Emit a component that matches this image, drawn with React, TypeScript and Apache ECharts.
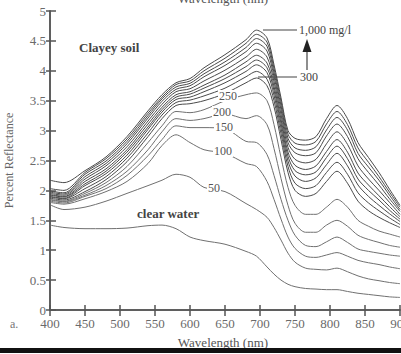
import React, { useEffect, useRef } from "react";
import * as echarts from "echarts";

const wavelengths = [400, 420, 450, 480, 510, 540, 560, 580, 600, 620, 650, 680, 695, 710, 720, 730, 740, 750, 765, 780, 795, 810, 825, 840, 855, 870, 885, 900];

const clearWater = [1.42,1.38,1.36,1.36,1.37,1.41,1.42,1.36,1.22,1.16,1.10,0.98,0.90,0.72,0.60,0.50,0.43,0.39,0.36,0.35,0.34,0.34,0.31,0.28,0.26,0.24,0.22,0.21];
const c50 = [1.76,1.68,1.72,1.82,1.95,2.08,2.17,2.27,2.22,2.05,1.98,1.78,1.68,1.55,1.38,1.17,0.95,0.80,0.70,0.68,0.67,0.70,0.64,0.57,0.52,0.49,0.46,0.44];
const c100 = [1.80,1.77,1.86,1.98,2.15,2.45,2.75,2.93,2.80,2.68,2.62,2.45,2.40,2.15,1.85,1.52,1.22,1.03,0.90,0.88,0.92,0.96,0.90,0.83,0.79,0.76,0.72,0.69];
const c150 = [1.82,1.79,1.90,2.03,2.25,2.58,2.85,3.08,3.05,3.05,3.03,2.82,2.80,2.60,2.25,1.85,1.50,1.25,1.08,1.06,1.14,1.22,1.13,1.02,0.98,0.95,0.92,0.90];
const c200 = [1.84,1.81,1.92,2.08,2.32,2.68,2.98,3.20,3.17,3.20,3.28,3.20,3.25,3.10,2.70,2.20,1.75,1.45,1.30,1.30,1.42,1.50,1.40,1.25,1.18,1.13,1.08,1.05];
const c250 = [1.85,1.82,1.95,2.13,2.40,2.80,3.08,3.32,3.30,3.35,3.50,3.60,3.63,3.50,3.10,2.55,2.05,1.75,1.60,1.60,1.72,1.85,1.72,1.50,1.40,1.32,1.27,1.22];
const c300 = [1.87,1.84,1.98,2.18,2.48,2.90,3.20,3.42,3.45,3.50,3.62,3.80,3.88,3.75,3.40,2.85,2.30,2.00,1.90,1.95,2.15,2.32,2.12,1.82,1.66,1.55,1.46,1.38];
const c350 = [1.89,1.86,2.03,2.23,2.54,2.96,3.26,3.47,3.51,3.58,3.71,3.90,3.99,3.86,3.50,2.95,2.40,2.12,2.03,2.08,2.30,2.47,2.27,1.96,1.79,1.66,1.54,1.43];
const c400 = [1.90,1.87,2.08,2.28,2.59,3.02,3.31,3.52,3.56,3.65,3.80,3.99,4.10,3.97,3.59,3.04,2.49,2.24,2.15,2.21,2.43,2.62,2.41,2.09,1.90,1.75,1.61,1.48];
const c450 = [1.92,1.89,2.11,2.32,2.64,3.06,3.35,3.56,3.61,3.71,3.87,4.07,4.18,4.05,3.67,3.12,2.57,2.33,2.26,2.31,2.55,2.74,2.53,2.19,2.00,1.84,1.67,1.52];
const c500 = [1.93,1.90,2.15,2.36,2.68,3.11,3.39,3.60,3.65,3.76,3.93,4.15,4.26,4.13,3.74,3.19,2.64,2.42,2.35,2.41,2.65,2.85,2.64,2.29,2.09,1.91,1.73,1.56];
const c600 = [1.95,1.92,2.19,2.41,2.73,3.16,3.44,3.65,3.70,3.83,4.01,4.23,4.36,4.23,3.82,3.27,2.72,2.52,2.46,2.52,2.78,2.98,2.77,2.41,2.19,2.00,1.80,1.60];
const c700 = [1.97,1.94,2.23,2.45,2.78,3.21,3.49,3.69,3.75,3.90,4.09,4.32,4.46,4.33,3.90,3.35,2.80,2.63,2.58,2.63,2.91,3.11,2.90,2.53,2.30,2.09,1.86,1.65];
const c800 = [1.99,1.96,2.27,2.49,2.82,3.25,3.53,3.73,3.79,3.95,4.15,4.39,4.54,4.41,3.97,3.42,2.87,2.71,2.67,2.73,3.01,3.22,3.01,2.62,2.39,2.17,1.92,1.68];
const c900 = [2.03,2.00,2.30,2.53,2.86,3.29,3.56,3.77,3.83,4.00,4.21,4.46,4.61,4.48,4.04,3.49,2.94,2.79,2.76,2.82,3.11,3.32,3.10,2.71,2.47,2.23,1.97,1.72];
const c1000 = [2.17,2.13,2.33,2.56,2.90,3.33,3.60,3.80,3.87,4.05,4.27,4.52,4.68,4.55,4.10,3.55,3.00,2.87,2.84,2.90,3.20,3.42,3.20,2.80,2.55,2.30,2.02,1.75];

const seriesNames = ["clear water", "50", "100", "150", "200", "250", "300", "350", "400", "450", "500", "600", "700", "800", "900", "1,000 mg/l"];
const seriesValues = [clearWater, c50, c100, c150, c200, c250, c300, c350, c400, c450, c500, c600, c700, c800, c900, c1000];

const FONT = '"Liberation Serif", "Times New Roman", serif';

export default function App() {
  const ref = useRef<HTMLDivElement>(null);
  useEffect(() => {
    if (!ref.current) return;
    const chart = echarts.init(ref.current, null, { renderer: "svg" });
    const series = seriesValues.map((vals, i) => ({
      name: seriesNames[i],
      type: "line",
      xAxisIndex: 0,
      yAxisIndex: 0,
      data: wavelengths.map((w, j) => [w, vals[j]]),
      showSymbol: false,
      smooth: 0.3,
      lineStyle: { width: 1, color: i >= 6 ? "#4a4a4a" : "#707070" },
      z: 2,
    }));
    const axisCommon = {
      axisLine: { show: true, lineStyle: { color: "#555", width: 1.5 } },
      splitLine: { show: false },
    };
    const labelText = (text: string, x: number, y: number, extra: any = {}) => ({
      type: "text",
      x,
      y,
      z: 100,
      style: {
        text,
        fontFamily: FONT,
        fontSize: 12,
        fill: "#555",
        align: "left",
        verticalAlign: "middle",
        ...extra,
      },
    });
    chart.setOption({
      animation: false,
      textStyle: { fontFamily: FONT },
      grid: { left: 50, right: 1, top: 11, bottom: 44, containLabel: false, outerBoundsMode: "none" },
      xAxis: [
        {
          type: "value",
          min: 400,
          max: 900,
          interval: 50,
          position: "bottom",
          ...axisCommon,
          axisTick: { show: true, inside: false, length: 6, lineStyle: { color: "#555", width: 1.5 } },
          axisLabel: { color: "#6a6a6a", fontSize: 13, fontFamily: FONT, margin: 7, showMaxLabel: true, showMinLabel: true },
        },
        {
          type: "value",
          min: 400,
          max: 900,
          interval: 50,
          position: "bottom",
          ...axisCommon,
          axisTick: { show: true, inside: true, length: 5, lineStyle: { color: "#555", width: 1.5 } },
          axisLabel: { show: false },
        },
      ],
      yAxis: [
        {
          type: "value",
          min: 0,
          max: 5,
          interval: 0.5,
          position: "left",
          ...axisCommon,
          axisTick: { show: true, inside: false, length: 4, lineStyle: { color: "#555", width: 1.5 } },
          axisLabel: { color: "#6a6a6a", fontSize: 13, fontFamily: FONT, margin: 4 },
          name: "Percent Reflectance",
          nameLocation: "middle",
          nameGap: 35,
          nameRotate: 90,
          nameTextStyle: { color: "#666", fontSize: 12, fontFamily: FONT },
        },
        {
          type: "value",
          min: 0,
          max: 5,
          interval: 0.5,
          position: "left",
          ...axisCommon,
          axisTick: { show: true, inside: true, length: 6, lineStyle: { color: "#555", width: 1.5 } },
          axisLabel: { show: false },
        },
      ],
      series,
      graphic: [
        labelText("Wavelength (nm)", 223, -2, { align: "center", fontSize: 13, fill: "#555" }),
        labelText("Clayey soil", 79, 47, { fontWeight: "bold", fontSize: 13, fill: "#444" }),
        labelText("clear water", 137, 213, { fontWeight: "bold", fontSize: 13, fill: "#444" }),
        labelText("a.", 10, 324, { fontSize: 12, fill: "#777" }),
        labelText("Wavelength (nm)", 223, 342, { align: "center", fontSize: 13, fill: "#555" }),
        { type: "rect", z: 100, shape: { x: 0, y: 348, width: 401, height: 5 }, style: { fill: "#111" } },
        { type: "line", z: 100, shape: { x1: 263, y1: 30, x2: 297, y2: 30 }, style: { stroke: "#444", lineWidth: 1.2 } },
        labelText("1,000 mg/l", 299, 30, { fill: "#444" }),
        { type: "line", z: 100, shape: { x1: 258, y1: 77, x2: 297, y2: 77 }, style: { stroke: "#444", lineWidth: 1.2 } },
        labelText("300", 300, 77, { fill: "#444" }),
        { type: "polygon", z: 100, shape: { points: [[307, 39], [302.5, 52], [311.5, 52]] }, style: { fill: "#222" } },
        { type: "line", z: 100, shape: { x1: 307, y1: 52, x2: 307, y2: 70 }, style: { stroke: "#444", lineWidth: 1.2 } },
        labelText("250", 218, 96, { backgroundColor: "#fff", padding: [0, 1] }),
        labelText("200", 212, 112, { backgroundColor: "#fff", padding: [0, 1] }),
        labelText("150", 214, 127, { backgroundColor: "#fff", padding: [0, 1] }),
        labelText("100", 213, 151, { backgroundColor: "#fff", padding: [0, 1] }),
        labelText("50", 207, 188, { backgroundColor: "#fff", padding: [0, 1] }),
      ],
    });
    return () => chart.dispose();
  }, []);
  return (
    <div
      ref={ref}
      style={{ position: "fixed", left: 0, top: 0, width: 401, height: 354, background: "#fff" }}
    />
  );
}
